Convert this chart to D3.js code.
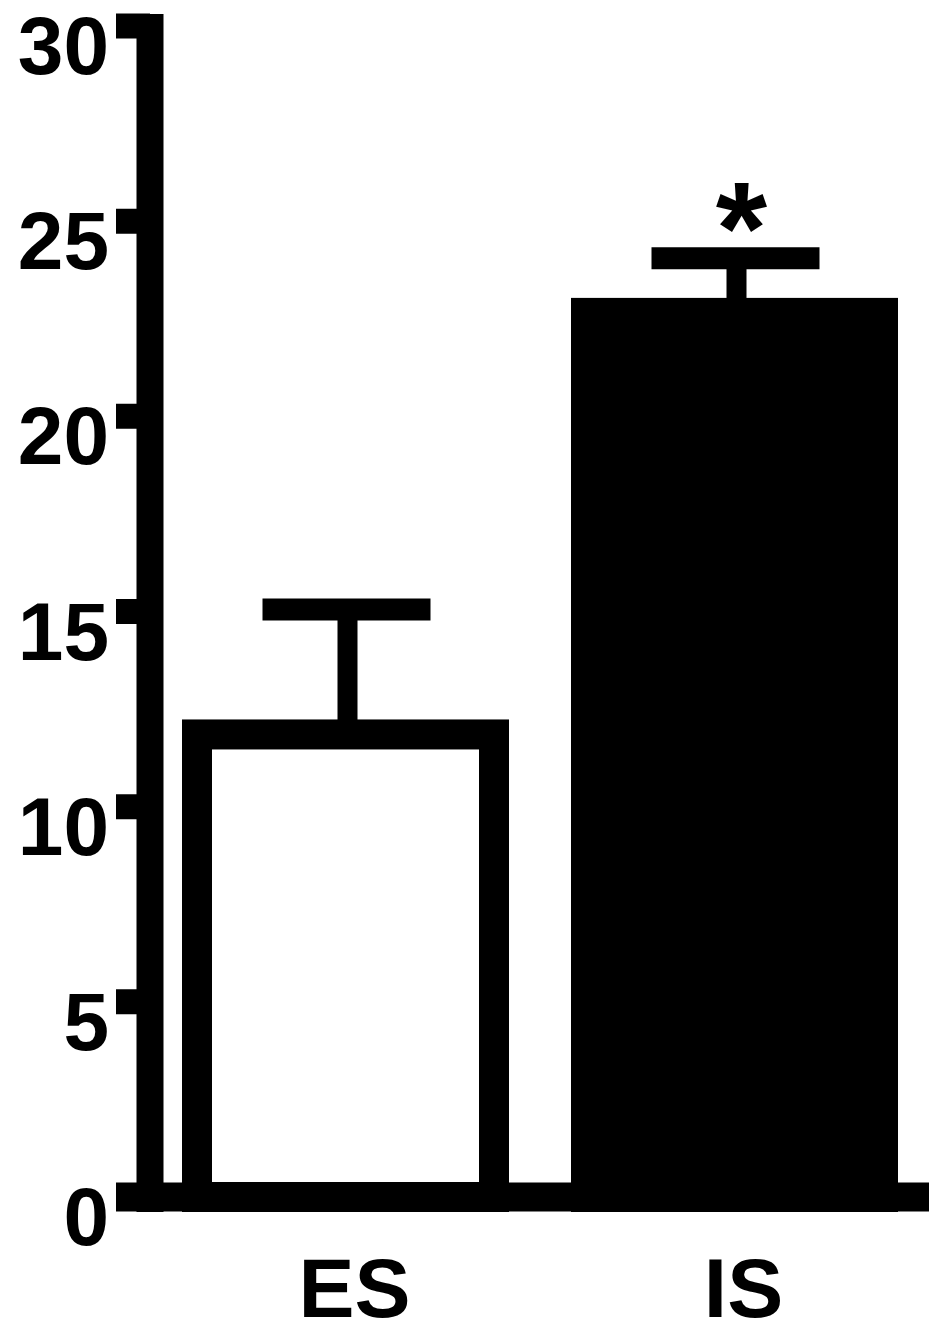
<!DOCTYPE html>
<html>
<head>
<meta charset="utf-8">
<script src="https://cdn.jsdelivr.net/npm/d3@7"></script>
<style>
  html, body { margin: 0; padding: 0; background: #fff; }
  svg { display: block; }
  text { font-family: "Liberation Sans", Arial, Helvetica, sans-serif; font-weight: bold; fill: #000; }
</style>
</head>
<body>
<svg id="chart" width="929" height="1336"></svg>
<script>
// ---- data ----
const categories = ["ES", "IS"];
const means = [11.85, 22.65];
const sems = [3.2, 1.4];
const fills = ["#ffffff", "#000000"];
const significance = ["", "*"];
const yTicks = [0, 5, 10, 15, 20, 25, 30];

// ---- layout ----
const W = 929, H = 1336;
const axisX = 150;
const svg = d3.select("#chart");

const y = d3.scaleLinear().domain([0, 30]).range([1197, 26]);
const x = d3.scalePoint().domain(categories).range([345.5, 734.5]);

const barStroke = 30;
const barWidth = 297;

// bars
categories.forEach((c, i) => {
  const cx = x(c);
  svg.append("rect")
    .attr("x", cx - barWidth / 2)
    .attr("y", y(means[i]))
    .attr("width", barWidth)
    .attr("height", y(0) - y(means[i]))
    .attr("fill", fills[i])
    .attr("stroke", "#000")
    .attr("stroke-width", barStroke);

  // error bar stem
  const top = y(means[i] + sems[i]);
  svg.append("line")
    .attr("x1", cx + 2).attr("x2", cx + 2)
    .attr("y1", y(means[i])).attr("y2", top)
    .attr("stroke", "#000").attr("stroke-width", 20);
  // cap
  svg.append("line")
    .attr("x1", cx + 1 - 84).attr("x2", cx + 1 + 84)
    .attr("y1", top).attr("y2", top)
    .attr("stroke", "#000").attr("stroke-width", 22);

  if (significance[i]) {
    svg.append("text")
      .attr("x", cx + 7)
      .attr("y", top + 16)
      .attr("text-anchor", "middle")
      .attr("font-size", 132)
      .text(significance[i]);
  }

  // category label
  svg.append("text")
    .attr("x", cx + 9)
    .attr("y", 1317)
    .attr("text-anchor", "middle")
    .attr("font-size", 84)
    .text(c);
});

// baseline (x axis)
svg.append("line")
  .attr("x1", 116).attr("x2", W)
  .attr("y1", y(0)).attr("y2", y(0))
  .attr("stroke", "#000").attr("stroke-width", 29);

// y axis line
svg.append("line")
  .attr("x1", axisX).attr("x2", axisX)
  .attr("y1", 14).attr("y2", 1212)
  .attr("stroke", "#000").attr("stroke-width", 27);

// ticks and labels
yTicks.forEach(t => {
  svg.append("line")
    .attr("x1", 116).attr("x2", axisX)
    .attr("y1", y(t)).attr("y2", y(t))
    .attr("stroke", "#000").attr("stroke-width", 25);
  svg.append("text")
    .attr("x", 109)
    .attr("y", y(t) + 48)
    .attr("text-anchor", "end")
    .attr("font-size", 82)
    .text(t);
});
</script>
</body>
</html>
